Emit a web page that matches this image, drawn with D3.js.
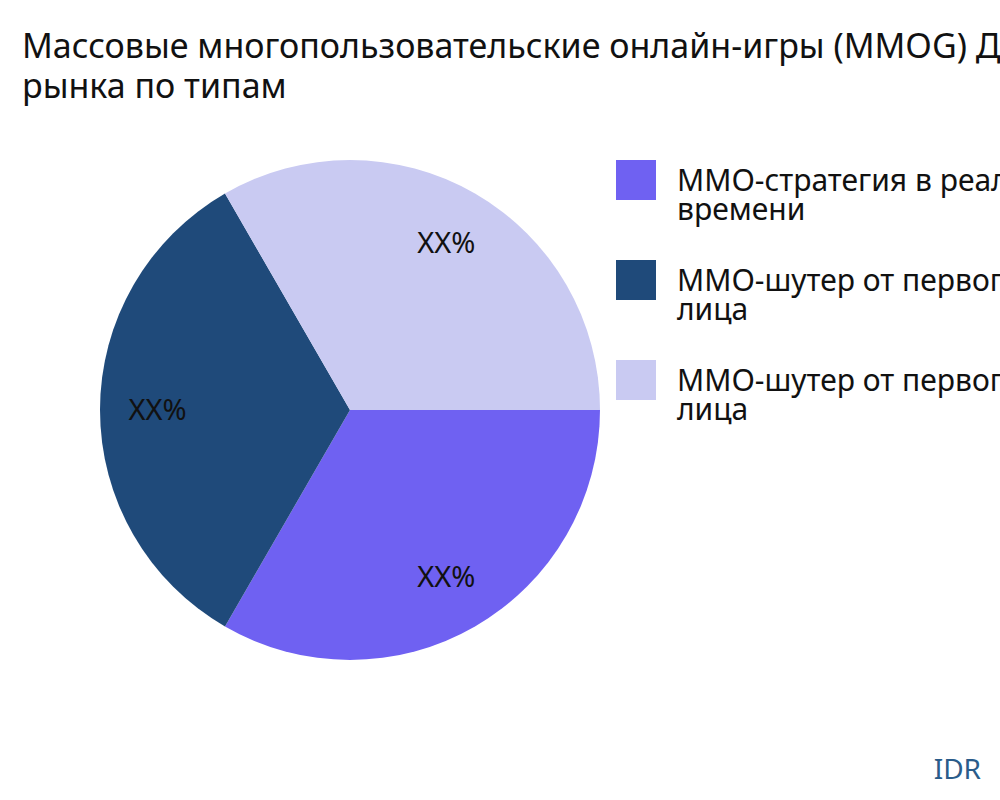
<!DOCTYPE html>
<html>
<head>
<meta charset="utf-8">
<script src="https://cdn.jsdelivr.net/npm/d3@7"></script>
<style>
  body { margin: 0; background: #fff; }
  svg { font-family: "Noto Sans", "DejaVu Sans", sans-serif; }
</style>
</head>
<body>
<div id="chart"></div>
<script>
const categories = [
    ["MMO-стратегия в реальном", "времени"],
    ["MMO-шутер от первого", "лица"],
    ["MMO-шутер от первого", "лица"]
];
const values = [1, 1, 1];
const labels = ["XX%", "XX%", "XX%"];
const colors = ["#6F61F2", "#1F4A7A", "#C9CAF2"];

const width = 1000, height = 800;
const svg = d3.select("#chart").append("svg")
    .attr("width", width)
    .attr("height", height);

const title = svg.append("text")
    .attr("x", 22).attr("y", 58)
    .attr("font-size", 34).attr("fill", "#111");
title.append("tspan").text("Массовые многопользовательские онлайн-игры (MMOG) Доля");
title.append("tspan").attr("x", 22).attr("dy", 40).text("рынка по типам");

const cx = 350, cy = 410, r = 250;
const pie = d3.pie().sort(null)
    .startAngle(Math.PI / 2)
    .endAngle(Math.PI / 2 + 2 * Math.PI);
const arcs = pie(values);
const arc = d3.arc().innerRadius(0).outerRadius(r);
const labelArc = d3.arc().innerRadius(r * 0.77).outerRadius(r * 0.77);

const g = svg.append("g").attr("transform", "translate(" + cx + "," + cy + ")");
g.selectAll("path").data(arcs).enter().append("path")
    .attr("d", arc)
    .attr("fill", function(d, i) { return colors[i]; });

g.selectAll("text").data(arcs).enter().append("text")
    .attr("transform", function(d) { return "translate(" + labelArc.centroid(d) + ")"; })
    .attr("text-anchor", "middle")
    .attr("dy", "0.35em")
    .attr("font-size", 29)
    .attr("fill", "#111")
    .text(function(d, i) { return labels[i]; });

const legend = svg.append("g");
const items = legend.selectAll("g").data(categories).enter().append("g")
    .attr("transform", function(d, i) { return "translate(616," + (160 + i * 100) + ")"; });
items.append("rect")
    .attr("width", 40).attr("height", 40)
    .attr("fill", function(d, i) { return colors[i]; });
const lt = items.append("text")
    .attr("x", 61).attr("y", 31)
    .attr("font-size", 30).attr("fill", "#111");
lt.append("tspan").text(function(d) { return d[0]; });
lt.append("tspan").attr("x", 61).attr("dy", 29).text(function(d) { return d[1]; });

svg.append("text")
    .attr("x", 981).attr("y", 779)
    .attr("text-anchor", "end")
    .attr("font-size", 28)
    .attr("fill", "#2A5C8A")
    .text("IDR");
</script>
</body>
</html>
